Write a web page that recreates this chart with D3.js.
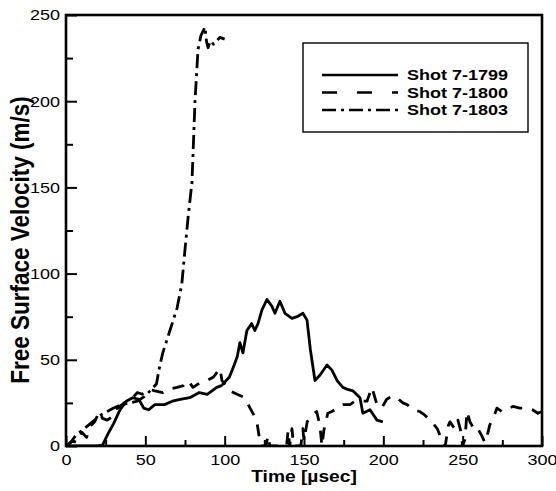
<!DOCTYPE html>
<html>
<head>
<meta charset="utf-8">
<script src="https://cdn.jsdelivr.net/npm/d3@7"></script>
<style>
  body { margin: 0; background: #fff; }
  text { font-family: "Liberation Sans", Arial, Helvetica, sans-serif; fill: #000; }
</style>
</head>
<body>
<div id="chart"></div>
<script>
// values: [time in usec, velocity in m/s]
const shot1799 = [[0,0],[10,0],[20,0],[23,0.5],[27,8],[30,13],[34,21],[38,26],[42,28],[46,27],[49,22],[52,21],[56,24],[62,24],[67,26],[72,27],[78,28],[84,31],[89,30],[92,32],[95,34],[98,35],[103,40],[106,47],[108,52],[109.6,60],[111.5,54],[114,67],[117,71],[119,67],[121,71],[123.5,79],[126.7,85],[129.8,81],[131.7,77],[134.8,84],[138,77],[142.4,74],[145.6,75],[149.3,77],[151.9,73],[154,56],[156.9,38],[160,41],[164.5,47],[167.6,44],[170.8,38],[174.5,34],[177,33],[180.8,32],[185.3,28],[187.1,19],[191.6,21],[196,15],[199.7,14]];

const shot1800 = [[0,0],[4,3],[7,2],[10,8],[13,5],[15,11],[18,14],[21,20],[23,16],[26,15],[29,17],[31,21],[34,23],[38,26],[42,28],[45,31],[48,30],[52,33],[56,32],[61,31],[65,33],[70,34],[74,35],[77,38],[80,34],[85,37],[89,38],[93,40],[97,45],[98.3,38],[103.3,32],[107.8,30],[112.8,28],[116,22],[119,17],[120.3,14],[122,4],[123,0],[126,0],[127.3,6],[128.5,0],[139,0],[140,9],[141,0],[142.4,10],[143.5,0],[148,0],[149.3,10],[150,3],[152,14],[155,18],[158,20],[160,12],[161.3,0],[162.5,9],[165,19],[167.6,20],[171,22],[174.5,24],[179,24],[182,26],[186,26],[189.7,26],[192.8,34],[196,24],[199,22],[202,27],[205.4,29],[208.6,28],[212.3,25],[215,24],[219,21],[223,20],[226,18],[230.6,14],[234,10],[237.6,2],[239,0],[241,12],[242,14],[245,10],[247,15],[249,8],[250,0],[251.5,4],[252.7,20],[254.6,14],[257,10],[259,11],[262,6],[264,2],[266,8],[267,12],[270,18],[271.6,22],[274.7,20],[278,21],[281.7,23],[286,22],[290.5,22],[294,21],[297.4,19],[300,20]];

const shot1803 = [[0,0],[3,2],[6,6],[10,9],[14,12],[18,15],[22,18],[26,20],[30,22],[35,24],[40,25],[45,26],[50,29],[53,32],[57,36],[59,46],[61,54],[65.5,67],[70,80],[73,94],[75,114],[77,133],[79.4,153],[81.3,200],[83.2,230],[85,238],[87.6,243],[88.5,235],[89.5,231],[91,235],[93,233],[95,235],[97,237],[100,236]];

const seriesNames = ["Shot 7-1799", "Shot 7-1800", "Shot 7-1803"];
const seriesDash = ["none", "12,10", "14,5,3,5"];

const xMajor = [0, 50, 100, 150, 200, 250, 300];
const xMinor = [25, 75, 125, 175, 225, 275];
const yMajor = [0, 50, 100, 150, 200, 250];
const yMinor = [25, 75, 125, 175, 225];

const W = 556, H = 491;
const plotLeft = 66, plotRight = 542, plotTop = 15, plotBottom = 446;

const svg = d3.select("#chart").append("svg")
    .attr("width", W)
    .attr("height", H);

const x = d3.scaleLinear().domain([0, 300]).range([plotLeft, plotRight]);
const y = d3.scaleLinear().domain([0, 250]).range([plotBottom, plotTop]);

svg.append("clipPath").attr("id", "plot")
  .append("rect")
    .attr("x", plotLeft).attr("y", plotTop)
    .attr("width", plotRight - plotLeft).attr("height", plotBottom - plotTop);

// lines
const line = d3.line()
    .x(function(d) { return x(d[0]); })
    .y(function(d) { return y(d[1]); });

const data = [shot1799, shot1800, shot1803];
svg.append("g").attr("clip-path", "url(#plot)")
  .selectAll("path")
  .data(data)
  .enter().append("path")
    .attr("d", line)
    .attr("fill", "none")
    .attr("stroke", "#000")
    .attr("stroke-width", 2.8)
    .attr("stroke-linejoin", "round")
    .attr("stroke-dasharray", function(d, i) { return seriesDash[i]; });

// axes, ticks pointing inwards
const xAxis = svg.append("g")
    .attr("transform", "translate(0," + plotBottom + ")")
    .call(d3.axisBottom(x).tickValues(xMajor).tickSizeInner(-10).tickSizeOuter(0).tickPadding(8));
const xAxisMinor = svg.append("g")
    .attr("transform", "translate(0," + plotBottom + ")")
    .call(d3.axisBottom(x).tickValues(xMinor).tickSizeInner(-6).tickSizeOuter(0).tickFormat(""));
const yAxis = svg.append("g")
    .attr("transform", "translate(" + plotLeft + ",0)")
    .call(d3.axisLeft(y).tickValues(yMajor).tickSizeInner(-11).tickSizeOuter(0).tickPadding(5));
const yAxisMinor = svg.append("g")
    .attr("transform", "translate(" + plotLeft + ",0)")
    .call(d3.axisLeft(y).tickValues(yMinor).tickSizeInner(-7).tickSizeOuter(0).tickFormat(""));

[xAxis, xAxisMinor, yAxis, yAxisMinor].forEach(function(a) {
  a.attr("font-family", null).attr("font-size", null);
  a.select(".domain").remove();
  a.selectAll(".tick line").attr("stroke", "#000").attr("stroke-width", 2);
  a.selectAll(".tick text")
    .attr("font-size", 15)
    .attr("transform", "scale(1.2,1)");
});

// frame
svg.append("rect")
    .attr("x", plotLeft).attr("y", plotTop)
    .attr("width", plotRight - plotLeft).attr("height", plotBottom - plotTop)
    .attr("fill", "none")
    .attr("stroke", "#000")
    .attr("stroke-width", 2.6);

// axis titles
svg.append("text")
    .attr("transform", "translate(304,482) scale(1.2,1)")
    .attr("text-anchor", "middle")
    .attr("font-size", 16)
    .attr("font-weight", "bold")
    .text("Time [\u00b5sec]");

svg.append("text")
    .attr("transform", "translate(29,240) rotate(-90) scale(1,1.15)")
    .attr("text-anchor", "middle")
    .attr("font-size", 22.5)
    .attr("font-weight", "bold")
    .text("Free Surface Velocity (m/s)");

// legend
const legend = svg.append("g");
legend.append("rect")
    .attr("x", 303).attr("y", 43)
    .attr("width", 225).attr("height", 89)
    .attr("fill", "#fff")
    .attr("stroke", "#000")
    .attr("stroke-width", 1.4);

const rows = legend.selectAll("g.row")
  .data(seriesNames)
  .enter().append("g")
    .attr("class", "row")
    .attr("transform", function(d, i) { return "translate(0," + (75 + i * 17.5) + ")"; });

rows.append("line")
    .attr("x1", 322).attr("x2", 398)
    .attr("stroke", "#000")
    .attr("stroke-width", 2.6)
    .attr("stroke-dasharray", function(d, i) { return i == 1 ? "15,20" : seriesDash[i]; });

rows.append("text")
    .attr("transform", "translate(407,5) scale(1.2,1)")
    .attr("font-size", 15)
    .attr("font-weight", "bold")
    .text(function(d) { return d; });
</script>
</body>
</html>
